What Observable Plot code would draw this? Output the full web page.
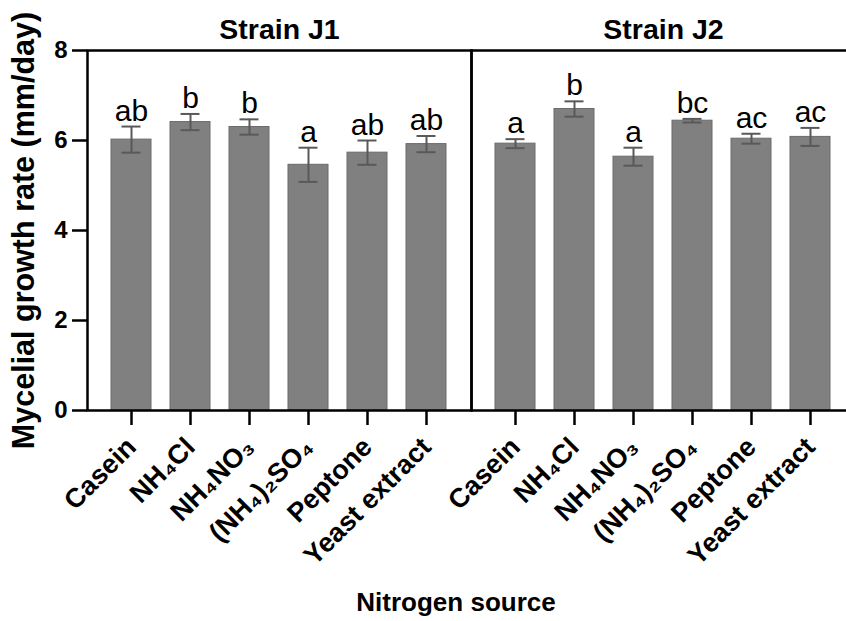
<!DOCTYPE html>
<html>
<head>
<meta charset="utf-8">
<script src="https://cdn.jsdelivr.net/npm/d3@7"></script>
<script src="https://cdn.jsdelivr.net/npm/@observablehq/plot@0.6"></script>
<style>
  html, body { margin: 0; padding: 0; background: white; }
  #wrap { position: relative; width: 846px; height: 621px; overflow: hidden; background: white; }
  #xlabel { position: absolute; left: 0; width: 912px; top: 587px; text-align: center;
    font-family: "Liberation Sans", Arial, sans-serif; font-weight: bold; font-size: 26px; line-height: 30px; }
  #chart g[aria-label="x-axis tick label"], #chart g[aria-label="x-axis tick label"] text { font-size: 27px !important; font-weight: bold !important; }
  #chart g[aria-label="y-axis tick label"], #chart g[aria-label="y-axis tick label"] text { font-size: 24px !important; font-weight: bold !important; }
  #chart g[aria-label="y-axis label"], #chart g[aria-label="y-axis label"] text { font-size: 30.5px !important; font-weight: bold !important; }
  #chart g[aria-label="fx-axis tick label"], #chart g[aria-label="fx-axis tick label"] text { font-size: 28.5px !important; font-weight: bold !important; }
</style>
</head>
<body>
<div id="wrap"><div id="chart"></div><div id="xlabel">Nitrogen source</div></div>
<script>
const strains = ["J1", "J2"];
const sources = ["Casein", "NH₄Cl", "NH₄NO₃", "(NH₄)₂SO₄", "Peptone", "Yeast extract"];
const j1Means = [6.02, 6.41, 6.30, 5.46, 5.73, 5.92];
const j1Se = [0.29, 0.18, 0.17, 0.38, 0.27, 0.18];
const j1Letters = ["ab", "b", "b", "a", "ab", "ab"];
const j2Means = [5.93, 6.70, 5.64, 6.44, 6.04, 6.08];
const j2Se = [0.10, 0.17, 0.20, 0.04, 0.11, 0.20];
const j2Letters = ["a", "b", "a", "bc", "ac", "ac"];
const yTicks = [0, 2, 4, 6, 8];

const rows = [];
sources.forEach((s, i) => {
  rows.push({strain: "J1", source: s, mean: j1Means[i], se: j1Se[i], letter: j1Letters[i]});
});
sources.forEach((s, i) => {
  rows.push({strain: "J2", source: s, mean: j2Means[i], se: j2Se[i], letter: j2Letters[i]});
});

const font = "'Liberation Sans', Arial, sans-serif";

const chart = Plot.plot({
  width: 855,
  height: 575,
  marginLeft: 87,
  marginRight: 0,
  marginTop: 50,
  marginBottom: 165,
  style: {maxWidth: "none", background: "white", fontFamily: font, overflow: "visible", color: "black"},
  fx: {domain: strains, padding: 0},
  x: {domain: sources, paddingInner: 0.32, paddingOuter: 0.414},
  y: {domain: [0, 8]},
  marks: [
    Plot.barY(rows, {fx: "strain", x: "source", y: "mean", fill: "#808080", stroke: "#6b6b6b", strokeWidth: 1}),
    Plot.ruleX(rows, {fx: "strain", x: "source", y1: d => d.mean - d.se, y2: d => d.mean + d.se, stroke: "#595959", strokeWidth: 2}),
    Plot.tickY(rows, {fx: "strain", x: "source", y: d => d.mean + d.se, stroke: "#595959", strokeWidth: 2, insetLeft: 10.5, insetRight: 10.5}),
    Plot.tickY(rows, {fx: "strain", x: "source", y: d => d.mean - d.se, stroke: "#595959", strokeWidth: 2, insetLeft: 10.5, insetRight: 10.5}),
    Plot.text(rows, {fx: "strain", x: "source", y: d => d.mean + d.se, text: "letter", lineAnchor: "bottom", dy: -6, fontSize: 30, fill: "black"}),
    Plot.frame({stroke: "black", strokeWidth: 2.5}),
    Plot.axisY({ticks: yTicks, tickSize: 15, tickPadding: 5, fontSize: 24, fontWeight: "bold", strokeWidth: 2.5,
      label: "Mycelial growth rate (mm/day)", labelAnchor: "center", labelArrow: "none", labelOffset: 75}),
    Plot.axisX({tickRotate: -45, tickSize: 15, tickPadding: 17, fontSize: 27, fontWeight: "bold", strokeWidth: 2.5, label: null}),
    Plot.axisFx({anchor: "top", tickSize: 0, tickPadding: 12, fontSize: 28.5, fontWeight: "bold",
      tickFormat: d => "Strain " + d, label: null})
  ]
});
document.getElementById("chart").appendChild(chart);
</script>
</body>
</html>
